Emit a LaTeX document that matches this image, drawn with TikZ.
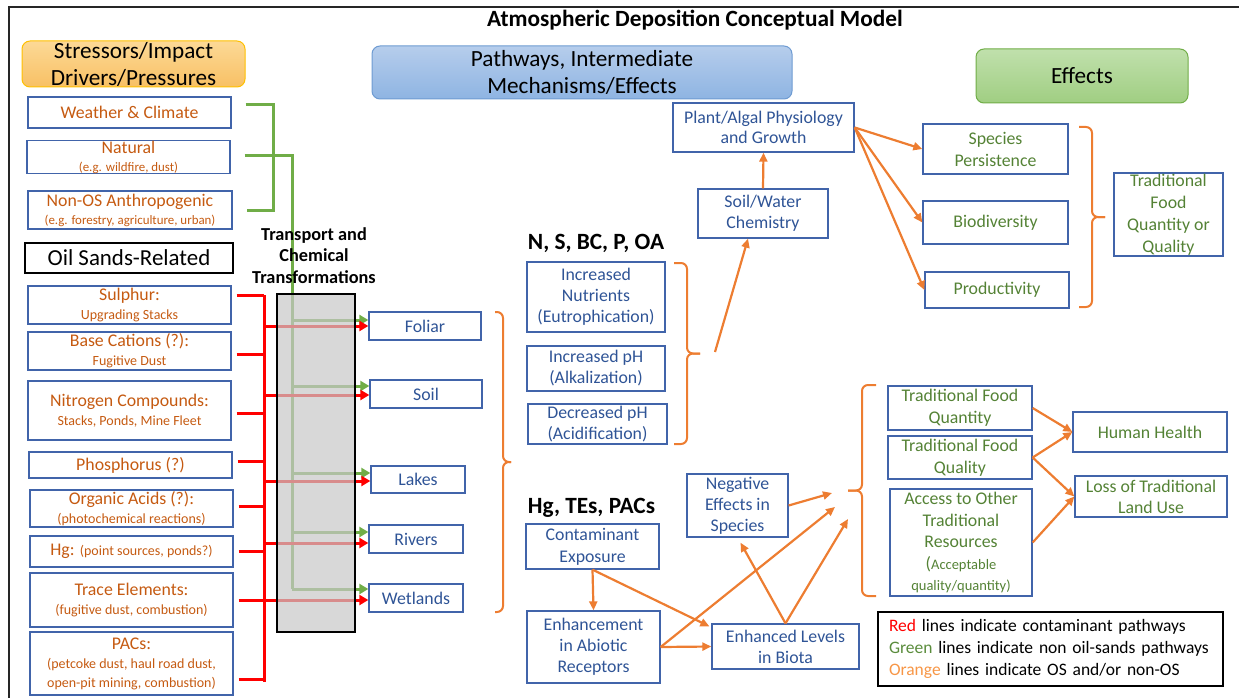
\documentclass[tikz,border=0pt]{standalone}
\usepackage{fontspec}
\setmainfont{Carlito}
\usetikzlibrary{arrows.meta,calc}

\definecolor{boxblue}{RGB}{65,100,170}
\definecolor{midblue}{RGB}{47,84,150}
\definecolor{srcorange}{RGB}{197,90,17}
\definecolor{effgreen}{RGB}{84,130,53}
\definecolor{lgreen}{RGB}{112,173,71}
\definecolor{oline}{RGB}{237,125,49}
\definecolor{legorange}{RGB}{247,150,70}
\definecolor{leggreen}{RGB}{90,140,60}
\definecolor{tgray}{RGB}{200,200,200}
\definecolor{hgold}{RGB}{255,192,0}
\definecolor{htopor}{RGB}{252,217,150}
\definecolor{hbotor}{RGB}{248,192,100}
\definecolor{hblued}{RGB}{110,155,210}
\definecolor{htopbl}{RGB}{182,205,236}
\definecolor{hbotbl}{RGB}{142,180,226}
\definecolor{htopgr}{RGB}{192,224,172}
\definecolor{hbotgr}{RGB}{160,206,130}

\newcommand{\fs}[2]{\fontsize{#1}{#2}\selectfont}
% curly brace: base x, spine x, tip x, top y, bottom y
\newcommand{\curlybrace}[5]{%
  \draw[obrace] (#1,#4) -- (#2,#4) -- (#2,{(#4+#5)/2}) -- (#3,{(#4+#5)/2});
  \draw[obrace] (#3,{(#4+#5)/2}) -- (#2,{(#4+#5)/2}) -- (#2,#5) -- (#1,#5);}

\tikzset{
  base/.style={rectangle, inner sep=0pt, align=center, line width=1.3pt},
  sz/.style 2 args={minimum width=#1pt, minimum height=#2pt},
  src/.style={base, draw=boxblue, text=srcorange, font=\fs{17.8}{19}},
  mid/.style={base, draw=boxblue, text=midblue, font=\fs{17.8}{21}},
  eff/.style={base, draw=boxblue, text=effgreen, font=\fs{17.8}{22}},
  head/.style={rounded corners=8pt, line width=1pt, inner sep=0pt, align=center, font=\fs{23.2}{27}},
  gline/.style={draw=lgreen, line width=3pt},
  rline/.style={draw=red, line width=3pt},
  garrow/.style={gline, -{Triangle[length=9pt,width=10pt]}},
  rarrow/.style={rline, -{Triangle[length=9pt,width=10pt]}},
  oarrow/.style={draw=oline, line width=2.2pt, -{Triangle[length=9pt,width=8pt]}},
  obrace/.style={draw=oline, line width=2pt, rounded corners=6pt},
  bighead/.style={font=\bfseries\fs{23.3}{26}},
}

\begin{document}
\begin{tikzpicture}[x=1pt,y=-1pt]
\useasboundingbox (0,0) rectangle (1239,698);

% outer frame
\draw[line width=1.3pt, black!85] (1239,7) -- (9,7) -- (9,698);

% title and column headings
\node[font=\bfseries\fs{23.3}{26}] (title) at (695,20) {Atmospheric Deposition Conceptual Model};
\node[head, draw=hgold, top color=htopor, bottom color=hbotor, sz={223}{46}] (stress) at (133.5,64) {Stressors/Impact\\Drivers/Pressures};
\node[head, draw=hblued, top color=htopbl, bottom color=hbotbl, sz={420}{53}] (pathways) at (582,72.5) {Pathways, Intermediate\\Mechanisms/Effects};
\node[head, draw=lgreen, top color=htopgr, bottom color=hbotgr, sz={212}{54}] (effects) at (1082,76) {Effects};

% non oil-sands drivers
\node[src, sz={203}{31}] (weather) at (129.5,112.5) {Weather \& Climate};
\node[src, sz={203}{32}] (natural) at (128.5,157) {Natural\\[-1pt]{\fs{12.9}{14}(e.g. wildfire, dust)}};
\node[src, sz={204}{38}] (nonos) at (130,210) {Non-OS Anthropogenic\\[-1pt]{\fs{12.9}{14}(e.g. forestry, agriculture, urban)}};
\node[base, draw=black, font=\fs{22.9}{26}, sz={208}{30}] (oilsands) at (129,258) {Oil Sands-Related};

% oil sands sources
\node[src, sz={203}{38}] (sulphur) at (129.5,305) {Sulphur:\\{\fs{14}{19}Upgrading Stacks}};
\node[src, sz={203}{38}] (basecat) at (129.5,351) {Base Cations (?):\\{\fs{14}{18}Fugitive Dust}};
\node[src, sz={203}{59}] (nitrogen) at (129.5,410.5) {Nitrogen Compounds:\\{\fs{14}{19}Stacks, Ponds, Mine Fleet}};
\node[src, sz={203}{26}] (phos) at (130.5,465) {Phosphorus (?)};
\node[src, sz={203}{37}] (organic) at (131.5,508.5) {Organic Acids (?):\\{\fs{14}{18}(photochemical reactions)}};
\node[src, sz={203}{31}] (hg) at (131.5,551.5) {Hg: {\fs{14}{17}(point sources, ponds?)}};
\node[src, sz={203}{54}] (trace) at (131.5,600) {Trace Elements:\\{\fs{14}{20}(fugitive dust, combustion)}};
\node[src, sz={203}{63}] (pacs) at (131.5,663.5) {PACs:\\{\fs{14}{19}(petcoke dust, haul road dust,}\\{\fs{14}{17}open-pit mining, combustion)}};

% receiving environments
\node[mid, sz={112}{28}] (foliar) at (425,326) {Foliar};
\node[mid, sz={112}{28}] (soil) at (426,394) {Soil};
\node[mid, sz={94}{27}] (lakes) at (418,479.5) {Lakes};
\node[mid, sz={94}{28}] (rivers) at (416,539) {Rivers};
\node[mid, sz={94}{28}] (wetlands) at (416,598) {Wetlands};

% acidifying / nutrient pathway
\node[bighead] (nsbc) at (596,243) {N, S, BC, P, OA};
\node[mid, sz={138}{70}] (nutrients) at (596,297) {Increased\\Nutrients\\(Eutrophication)};
\node[mid, sz={138}{45}] (incph) at (596,368.5) {Increased pH\\(Alkalization)};
\node[mid, sz={139}{40}] (decph) at (597.5,424) {Decreased pH\\(Acidification)};
\node[mid, sz={130}{49}] (soilwater) at (763,213.5) {Soil/Water\\Chemistry};
\node[mid, sz={181}{49}, font=\fs{17.8}{20}] (plant) at (763.5,127.5) {Plant/Algal Physiology\\and Growth};

% contaminant pathway
\node[bighead] (hgtes) at (591.5,508) {Hg, TEs, PACs};
\node[mid, sz={133}{45}, font=\fs{17.8}{22}] (contam) at (592.5,546.5) {Contaminant\\Exposure};
\node[mid, sz={133}{72}] (abiotic) at (593.5,647) {Enhancement\\in Abiotic\\Receptors};
\node[mid, sz={147}{45}] (biota) at (785.5,646.5) {Enhanced Levels\\in Biota};
\node[mid, sz={101}{63}] (negeff) at (737.5,505.5) {Negative\\Effects in\\Species};

% ecological effects
\node[eff, sz={145}{50}] (species) at (995.5,149) {Species\\Persistence};
\node[eff, sz={145}{43}] (biodiv) at (995.5,222.5) {Biodiversity};
\node[eff, sz={144}{36}] (product) at (997,290) {Productivity};
\node[eff, sz={109}{83}] (tfqq) at (1168.5,214.5) {Traditional\\Food\\Quantity or\\Quality};

% human effects
\node[eff, sz={144}{44}] (tfquant) at (960,408) {Traditional Food\\Quantity};
\node[eff, sz={144}{43}] (tfqual) at (960,457.5) {Traditional Food\\Quality};
\node[eff, sz={142}{107}, font=\fs{17.8}{21.5}] (access) at (961,542.5) {Access to Other\\Traditional\\Resources\\({\fs{14.5}{20}Acceptable}\\{\fs{14.5}{20}quality/quantity)}};
\node[eff, sz={154}{40}] (health) at (1150,432) {Human Health};
\node[eff, sz={152}{41}, font=\fs{17.8}{21}] (loss) at (1151,496.5) {Loss of Traditional\\Land Use};

% legend
\node[base, draw=black, line width=1.2pt, sz={345}{74}, align=left, text width=323pt, font=\fs{17.5}{22}] (legend) at (1050.5,649)
  {\textcolor{red}{Red} lines indicate contaminant pathways\\
   \textcolor{leggreen}{Green} lines indicate non oil-sands pathways\\
   \textcolor{legorange}{Orange} lines indicate OS and/or non-OS};

% green (non oil-sands) connectors
\coordinate (gspine) at (273,150);
\coordinate (gbus) at (292,589);
\draw[gline] ([xshift=14pt,yshift=7.5pt]weather.east) -| (gspine) |- ([xshift=14pt]nonos.east);
\draw[gline] ([xshift=14pt,yshift=2pt]natural.east) -| (gbus);
\foreach \n/\g in {foliar/6, soil/8, lakes/6.5, rivers/7, wetlands/9}
  \draw[garrow] ([yshift=\g pt]\n.west -| gbus) -- ([yshift=\g pt]\n.west);

% red (contaminant) connectors
\coordinate (rtop) at (264,295);
\coordinate (rbot) at (264,682);
\draw[rline] (rtop) -- (rbot);
\foreach \n/\s in {sulphur/10, basecat/-3, nitrogen/-2.5, phos/4, organic/2.5, hg/0.5, trace/0, pacs/-15.5}
  \draw[rline] ([xshift=5pt,yshift=\s pt]\n.east) -- ([yshift=\s pt]\n.east -| rtop);
\foreach \n/\r in {foliar/0, soil/-1, lakes/-1.5, rivers/-4, wetlands/-2}
  \draw[rarrow] ([yshift=\r pt]\n.west -| rtop) -- ([yshift=\r pt]\n.west);

% transport box laid over the lines
\node[rectangle, draw=black, line width=1.2pt, fill=tgray, fill opacity=0.7, sz={78}{338}, inner sep=0pt] (transport) at (316,463) {};
\node[font=\bfseries\fs{18.3}{21.5}, align=center] (translabel) at (314,255.5) {Transport and\\Chemical\\Transformations};

% braces
\curlybrace{495}{503}{511}{312}{612}
\curlybrace{674}{687}{700}{263}{444}
\curlybrace{1079}{1092}{1105}{127}{307}
\curlybrace{876}{862}{848}{385}{596}

% orange pathway arrows
\coordinate (b2out) at (715,352);
\coordinate (j1) at (832,493);
\coordinate (j2) at (835,507);
\coordinate (j3) at (848,519);
\draw[oarrow] (b2out) -- ([xshift=-15pt]soilwater.south);
\draw[oarrow] (soilwater.north) -- (plant.south);
\foreach \t in {species, biodiv, product}
  \draw[oarrow] (plant.east) -- (\t.west);
\draw[oarrow] (contam.south) -- (abiotic.north);
\draw[oarrow] (contam.south) -- ([shift={(-2,3)}]biota.north west);
\draw[oarrow] (abiotic.east) -- (biota.west);
\draw[oarrow] (abiotic.east) -- (j2);
\draw[oarrow] (biota.north) -- ([shift={(3,5)}]negeff.south);
\draw[oarrow] (biota.north) -- (j3);
\draw[oarrow] (negeff.east) -- (j1);
\draw[oarrow] (tfquant.east) -- (health.west);
\draw[oarrow] (tfqual.east) -- (health.west);
\draw[oarrow] (tfqual.east) -- (loss.west);
\draw[oarrow] (access.east) -- (loss.west);
\end{tikzpicture}
\end{document}
